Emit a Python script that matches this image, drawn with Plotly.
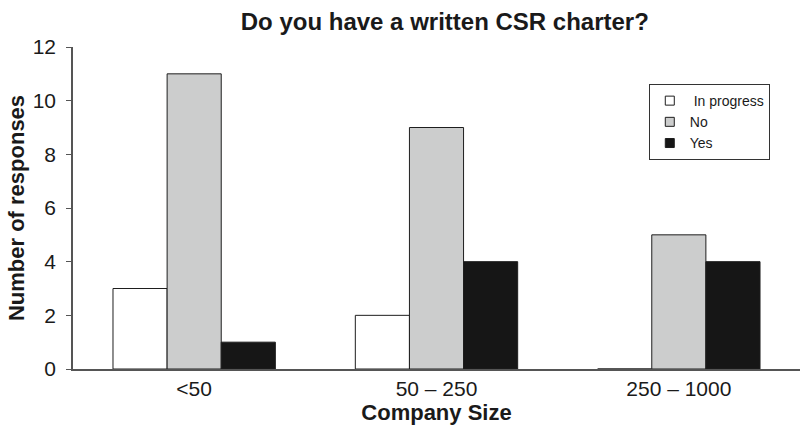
import plotly.graph_objects as go

categories = ["<50", "50 – 250", "250 – 1000"]
in_progress = [3, 2, 0]
no = [11, 9, 5]
yes = [1, 4, 4]

series = [
    (" In progress", in_progress, "#ffffff"),
    ("No", no, "#cccdcd"),
    ("Yes", yes, "#161616"),
]

fig = go.Figure()
for name, vals, color in series:
    fig.add_trace(go.Bar(
        x=categories, y=vals, name=name, showlegend=False,
        marker=dict(color=color, line=dict(color="#1e1e1e", width=1)),
    ))
# small square swatches for the legend
for name, vals, color in series:
    fig.add_trace(go.Scatter(
        x=[None], y=[None], mode="markers", name=name,
        marker=dict(symbol="square", size=9, color=color,
                    line=dict(color="#1e1e1e", width=1)),
    ))

font = "Liberation Sans, Arial, sans-serif"
fig.update_layout(
    width=800, height=432,
    margin=dict(l=73, r=0, t=47, b=63),
    barmode="group", bargap=0.33, bargroupgap=0,
    plot_bgcolor="white", paper_bgcolor="white",
    font=dict(family=font, size=21, color="#1a1a1a"),
    title=dict(text="<b>Do you have a written CSR charter?</b>",
               x=0.556, xanchor="center", y=0.949, yanchor="middle",
               font=dict(size=24)),
    legend=dict(x=0.792, y=0.885, xanchor="left", yanchor="top",
                bordercolor="#333333", borderwidth=1, bgcolor="white",
                font=dict(size=14), traceorder="normal",
                tracegroupgap=0, itemwidth=30),
    showlegend=True,
)
fig.update_xaxes(
    showline=True, linecolor="#555555", linewidth=1.5,
    ticks="", tickfont=dict(size=21),
    title=dict(text="<b>Company Size</b>", font=dict(size=22), standoff=4),
)
fig.update_yaxes(
    range=[0, 12], dtick=2, showgrid=False, zeroline=False,
    showline=True, linecolor="#555555", linewidth=1.5,
    ticks="outside", ticklen=5, tickcolor="#555555",
    tickfont=dict(size=21), ticklabelstandoff=6,
    title=dict(text="<b>Number of responses</b>", font=dict(size=22), standoff=2),
)

fig.write_html("out.html")
